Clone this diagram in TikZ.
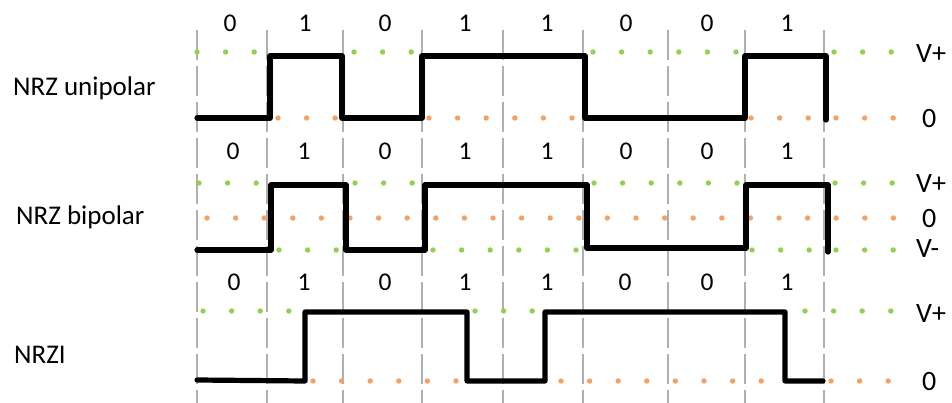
\documentclass[tikz,border=0pt]{standalone}
\usepackage{fontspec}
\setmainfont{Carlito}
\definecolor{dotgreen}{HTML}{92D050}
\definecolor{dotorange}{HTML}{F5A162}
\definecolor{gridgray}{HTML}{B0B0B0}
\newcommand{\dotrow}[4]{% color, y, x0, n
  \foreach \k in {1,...,#4} {
    \fill[#1] ({#3+(\k-1)*28.6},#2) circle (2.7pt);
  }}
\begin{document}
\begin{tikzpicture}[x=1pt,y=-1pt,
  signal/.style={line width=5.2pt,line join=round,line cap=round,black},
  gridline/.style={gridgray,line width=1.3pt,dash pattern=on 30pt off 6pt},
  bitlabel/.style={anchor=base,inner sep=0pt,font=\fontsize{25.5}{28}\selectfont},
  lvllabel/.style={anchor=base west,inner sep=0pt,font=\fontsize{28}{30}\selectfont},
  sidelabel/.style={anchor=base west,inner sep=0pt,font=\fontsize{27}{30}\selectfont}]
\useasboundingbox (0,0) rectangle (952,403);
\fill[white] (0,0) rectangle (952,403);
% vertical grid
\foreach \x in {197,267,343,422,503,583,668,745,824} {
  \draw[gridline] (\x,30) -- (\x,403);
}
% dots section 1
\dotrow{dotgreen}{52}{197}{3}
\dotrow{dotgreen}{52}{354}{3}
\dotrow{dotgreen}{52}{593}{6}
\dotrow{dotgreen}{52}{834}{3}
\dotrow{dotorange}{118}{278}{3}
\dotrow{dotorange}{118}{429}{6}
\dotrow{dotorange}{118}{751}{3}
\dotrow{dotorange}{118}{836}{3}
% dots section 2
\dotrow{dotgreen}{183}{199}{3}
\dotrow{dotgreen}{183}{355}{3}
\dotrow{dotgreen}{183}{594}{6}
\dotrow{dotgreen}{183}{835}{3}
\dotrow{dotorange}{218}{207}{25}
\dotrow{dotgreen}{250}{279}{3}
\dotrow{dotgreen}{250}{433}{6}
\dotrow{dotgreen}{250}{752}{3}
\dotrow{dotgreen}{250}{836}{3}
% dots section 3
\dotrow{dotgreen}{311}{203}{4}
\dotrow{dotgreen}{311}{475}{3}
\dotrow{dotgreen}{311}{805}{4}
\dotrow{dotorange}{381}{313}{6}
\dotrow{dotorange}{381}{561}{8}
\dotrow{dotorange}{381}{831}{3}
% signals
\draw[signal] (197,118) -- (270,118) -- (270,56) -- (342,56) -- (342,118) -- (422,118) -- (422,56) -- (585,56) -- (585,118) -- (745,118) -- (745,56) -- (826,56) -- (826,120);
\draw[signal] (197,250) -- (271,250) -- (271,185) -- (346,185) -- (346,250) -- (425,250) -- (425,185) -- (587,185) -- (587,248) -- (746,248) -- (746,185) -- (828,185) -- (828,252);
\draw[signal] (197,380) -- (305,381) -- (305,312) -- (467,312) -- (467,381) -- (545,381) -- (545,312) -- (785,312) -- (785,381) -- (823,381);
% bit labels
\foreach \x/\b [count=\i] in {230/0,305/1,385/0,465/1,547/1,626/0,707/0,787/1} {
  \node[bitlabel] (ba\i) at (\x,32) {\b};
}
\foreach \x/\b [count=\i] in {233/0,304/1,385/0,465/1,547/1,626/0,707/0,787/1} {
  \node[bitlabel] (bb\i) at (\x,160) {\b};
}
\foreach \x/\b [count=\i] in {234/0,304/1,385/0,465/1,547/1,625/0,707/0,787/1} {
  \node[bitlabel] (bc\i) at (\x,290) {\b};
}
% left labels
\node[sidelabel] (lab1) at (13,96) {NRZ unipolar};
\node[sidelabel] (lab2) at (16,225) {NRZ bipolar};
\node[sidelabel] (lab3) at (14,363) {NRZI};
% level labels
\node[lvllabel] (v1p) at (916,63) {V+};
\node[lvllabel] (v1z) at (922,128) {0};
\node[lvllabel] (v2p) at (916,193) {V+};
\node[lvllabel] (v2z) at (922,228) {0};
\node[lvllabel] (v2m) at (916,258) {V-};
\node[lvllabel] (v3p) at (916,322) {V+};
\node[lvllabel] (v3z) at (922,390) {0};
\end{tikzpicture}
\end{document}
